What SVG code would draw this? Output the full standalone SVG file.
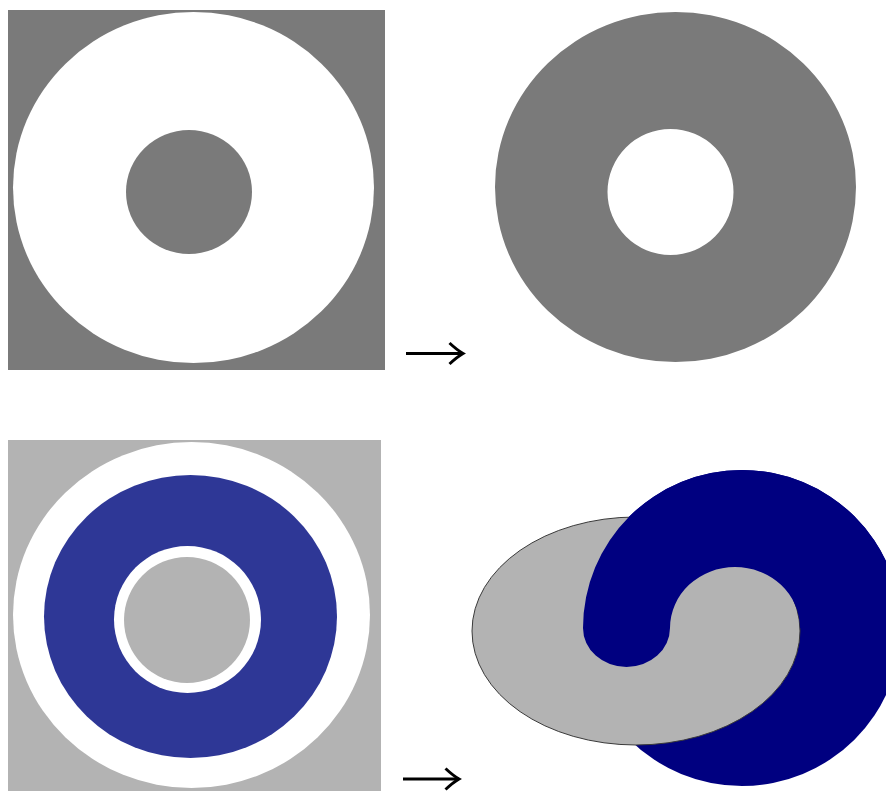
<svg xmlns="http://www.w3.org/2000/svg" width="886" height="791" viewBox="0 0 886 791">
  <style>
    .dark { fill: #7a7a7a; }
    .white { fill: #ffffff; }
    .light { fill: #b3b3b3; }
    .ring { fill: #2e3796; }
    .navy { fill: #000080; }
    .arrow { stroke: #000; stroke-width: 3; fill: none; }
  </style>
  <defs>
    <marker id="head" markerUnits="userSpaceOnUse" viewBox="-3 -3 21 27" refX="14" refY="10.5" markerWidth="21" markerHeight="27" orient="auto">
      <path d="M0.5,0 Q8,7 14,10.5 Q8,14 0.5,21" fill="none" stroke="#000" stroke-width="3" stroke-linejoin="miter" stroke-miterlimit="10"/>
    </marker>
  </defs>
  <rect width="886" height="791" fill="#ffffff"/>

  <g id="top-left">
    <rect x="8" y="10" width="377" height="360" class="dark"/>
    <ellipse cx="193.5" cy="187.5" rx="180.5" ry="175.5" class="white"/>
    <ellipse cx="189" cy="192" rx="63" ry="62" class="dark"/>
  </g>

  <g id="top-right">
    <path class="dark" fill-rule="evenodd" d="M495,187 A180.5,175 0 1,0 856,187 A180.5,175 0 1,0 495,187 Z M607.5,192 A63,63 0 1,0 733.5,192 A63,63 0 1,0 607.5,192 Z"/>
  </g>

  <g id="bottom-left">
    <rect x="8" y="440" width="373" height="351" class="light"/>
    <ellipse cx="191.5" cy="615" rx="178.5" ry="173" class="white"/>
    <ellipse cx="190.5" cy="616.5" rx="146.5" ry="141.5" class="ring"/>
    <circle cx="187.5" cy="619.5" r="73.5" class="white"/>
    <circle cx="187" cy="620" r="63" class="light"/>
  </g>

  <g id="bottom-right">
    <ellipse cx="742" cy="628" rx="159" ry="158" class="navy"/>
    <ellipse cx="636" cy="631" rx="164" ry="114" class="light" stroke="#3a3a3a" stroke-width="1"/>
    <path class="navy" d="M583,628 A159,158 0 0,1 901,628 L800,628 A65,61 0 0,0 670,628 A43.5,39 0 0,1 583,628 Z"/>
  </g>

  <g id="connectors">
    <line x1="406" y1="353.5" x2="463" y2="353.5" class="arrow" marker-end="url(#head)"/>
    <line x1="403" y1="779" x2="459" y2="779" class="arrow" marker-end="url(#head)"/>
  </g>
</svg>
